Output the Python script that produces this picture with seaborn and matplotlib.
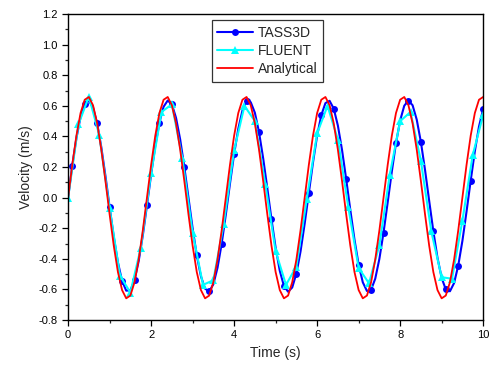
import matplotlib as mpl
mpl.use('Agg')
import numpy as np
import pandas as pd
import seaborn as sns
import matplotlib.pyplot as plt
from matplotlib.ticker import MultipleLocator, FormatStrFormatter

# TASS3D, sampled every 0.1 s (markers on every 3rd point from 0.1 s)
tass_time = np.round(np.arange(0, 101) * 0.1, 2)
tass_vel = [
    0.000, 0.210, 0.389, 0.528, 0.613, 0.634, 0.590, 0.485, 0.330, 0.141,
    -0.061, -0.256, -0.423, -0.544, -0.608, -0.606, -0.540, -0.415, -0.247, -0.051,
    0.151, 0.339, 0.491, 0.594, 0.635, 0.610, 0.522, 0.381, 0.200, 0.000,
    -0.200, -0.377, -0.514, -0.595, -0.613, -0.566, -0.458, -0.301, -0.111, 0.091,
    0.285, 0.450, 0.569, 0.629, 0.624, 0.555, 0.428, 0.257, 0.061, -0.141,
    -0.327, -0.478, -0.577, -0.615, -0.587, -0.496, -0.352, -0.170, 0.030, 0.229,
    0.405, 0.539, 0.618, 0.633, 0.582, 0.471, 0.312, 0.121, -0.081, -0.274,
    -0.437, -0.553, -0.610, -0.602, -0.530, -0.400, -0.228, -0.031, 0.171, 0.356,
    0.504, 0.601, 0.635, 0.604, 0.510, 0.364, 0.181, -0.021, -0.219, -0.393,
    -0.524, -0.600, -0.612, -0.558, -0.444, -0.283, -0.091, 0.111, 0.303, 0.465,
    0.578,
]

# FLUENT, every 0.25 s
fluent_time = np.round(np.arange(0, 41) * 0.25, 2)
fluent_vel = [
    0.00, 0.48, 0.66, 0.41, -0.07, -0.51, -0.62, -0.33, 0.16, 0.56,
    0.61, 0.26, -0.23, -0.57, -0.54, -0.17, 0.31, 0.60, 0.50, 0.09,
    -0.35, -0.57, -0.45, -0.01, 0.42, 0.60, 0.38, -0.06, -0.46, -0.56,
    -0.31, 0.15, 0.50, 0.56, 0.24, -0.22, -0.52, -0.53, -0.15, 0.28,
    0.54,
]

# Analytical, every 0.1 s
ana_time = np.round(np.arange(0, 101) * 0.1, 2)
ana_vel = [
    0.000, 0.214, 0.405, 0.553, 0.640, 0.658, 0.604, 0.486, 0.314, 0.109,
    -0.109, -0.314, -0.486, -0.604, -0.658, -0.640, -0.553, -0.405, -0.214,
    0.000, 0.214, 0.405, 0.553, 0.640, 0.658, 0.604, 0.486, 0.314, 0.109,
    -0.109, -0.314, -0.486, -0.604, -0.658, -0.640, -0.553, -0.405, -0.214,
    0.000, 0.214, 0.405, 0.553, 0.640, 0.658, 0.604, 0.486, 0.314, 0.109,
    -0.109, -0.314, -0.486, -0.604, -0.658, -0.640, -0.553, -0.405, -0.214,
    0.000, 0.214, 0.405, 0.553, 0.640, 0.658, 0.604, 0.486, 0.314, 0.109,
    -0.109, -0.314, -0.486, -0.604, -0.658, -0.640, -0.553, -0.405, -0.214,
    0.000, 0.214, 0.405, 0.553, 0.640, 0.658, 0.604, 0.486, 0.314, 0.109,
    -0.109, -0.314, -0.486, -0.604, -0.658, -0.640, -0.553, -0.405, -0.214,
    0.000, 0.214, 0.405, 0.553, 0.640, 0.658,
]

sns.set_style('ticks')
plt.rcParams['font.family'] = ['Liberation Sans', 'DejaVu Sans']
plt.rcParams['axes.unicode_minus'] = False

tass = pd.DataFrame({'Time': tass_time, 'Velocity': tass_vel})
fluent = pd.DataFrame({'Time': fluent_time, 'Velocity': fluent_vel})
ana = pd.DataFrame({'Time': ana_time, 'Velocity': ana_vel})

fig = plt.figure(figsize=(4.9, 3.7), dpi=100)
ax = fig.add_axes([0.139, 0.135, 0.847, 0.827])

sns.lineplot(data=tass, x='Time', y='Velocity', ax=ax, color='#0000FF', lw=1.5,
             marker='o', markersize=5, markevery=(1, 3), markeredgewidth=0,
             sort=False, label='TASS3D')
sns.lineplot(data=fluent, x='Time', y='Velocity', ax=ax, color='#00FFFF', lw=1.5,
             marker='^', markersize=6, markeredgewidth=0,
             sort=False, label='FLUENT')
sns.lineplot(data=ana, x='Time', y='Velocity', ax=ax, color='#FF0000', lw=1.3,
             sort=False, label='Analytical')

ax.set_xlim(0, 10)
ax.set_ylim(-0.8, 1.2)
ax.xaxis.set_major_locator(MultipleLocator(2))
ax.xaxis.set_minor_locator(MultipleLocator(1))
ax.yaxis.set_major_locator(MultipleLocator(0.2))
ax.yaxis.set_minor_locator(MultipleLocator(0.1))
ax.yaxis.set_major_formatter(FormatStrFormatter('%.1f'))
ax.tick_params(which='major', direction='out', length=4, width=0.9, labelsize=8, colors='black')
ax.tick_params(which='minor', direction='out', length=2.5, width=0.9)
for s in ax.spines.values():
    s.set_visible(True)
    s.set_color('black')
    s.set_linewidth(1.0)

ax.set_xlabel('Time (s)', fontsize=10)
ax.set_ylabel('Velocity (m/s)', fontsize=10)

leg = ax.legend(loc='upper center', bbox_to_anchor=(0.48, 0.98), fontsize=10,
                frameon=True, fancybox=False, handlelength=2.6, borderpad=0.4,
                labelspacing=0.3, handletextpad=0.3, borderaxespad=0)
leg.get_frame().set_edgecolor('black')
leg.get_frame().set_linewidth(0.9)

fig.savefig('out.png', dpi=100)
